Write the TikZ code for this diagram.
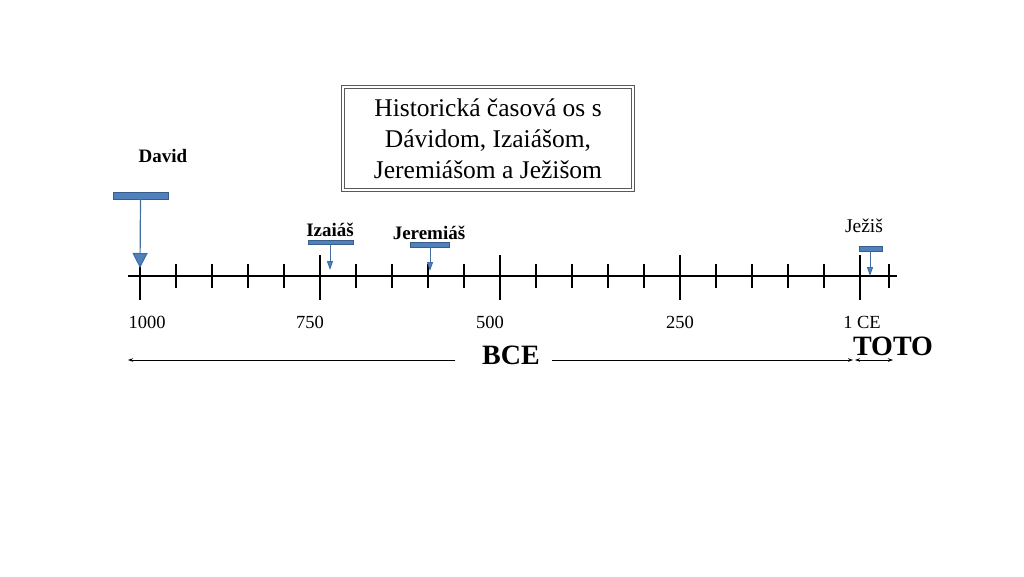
\documentclass[tikz,border=0pt]{standalone}
\usepackage{fontspec}
\setmainfont{Liberation Serif}
\usetikzlibrary{positioning,arrows.meta}
\definecolor{barblue}{RGB}{79,129,189}
\definecolor{baredge}{RGB}{56,93,138}

\begin{document}
\begin{tikzpicture}[x=1pt, y=-1pt,
        bar/.style={rectangle, draw=baredge, fill=barblue, inner sep=0pt},
        who/.style={font=\fontsize{19}{22}\selectfont\bfseries},
        year/.style={font=\fontsize{18.5}{22}\selectfont},
        era/.style={font=\fontsize{28}{32}\selectfont\bfseries},
        pin/.style={draw=barblue!85!black, line width=1pt, -{Triangle[width=6pt, length=9pt, fill=barblue]}},
        span/.style={draw=black, line width=0.8pt},
        titlebox/.style={rectangle, draw=black!65, double, double distance=1.6pt, line width=1pt, fill=white,
                         minimum width=290pt, minimum height=103pt, align=center,
                         font=\fontsize{25.5}{31}\selectfont}
      ]
        \useasboundingbox (0,0) rectangle (1024,576);

        % axis and ticks
        \coordinate (start) at (128,276);
        \coordinate (end)   at (897,276);
        \draw[line width=1.4pt] (start) -- (end);
        \foreach \k in {1,2,3,4,6,7,8,9,11,12,13,14,16,17,18,19}
          \draw[line width=1.1pt] (140+36*\k,264) -- (140+36*\k,288);
        \draw[line width=1.1pt] (889,264) -- (889,288);
        \foreach \k in {0,...,4}
          \draw[line width=1.1pt] (140+180*\k,255) -- (140+180*\k,300);

        % years
        \node[year] (y1000) at (147,322) {1000};
        \node[year] (y750)  at (310,322) {750};
        \node[year] (y500)  at (490,322) {500};
        \node[year] (y250)  at (680,322) {250};
        \node[year] (yce)   at (862,322) {1 CE};

        % title
        \node[titlebox] (title) at (488,138.5) {Historická časová os s\\Dávidom, Izaiášom,\\Jeremiášom a Ježišom};

        % people
        \node[who] (david) at (163,156) {David};
        \node[bar, minimum width=55pt, minimum height=7pt] (davidbar) at (140.5,195.5) {};
        \coordinate (davidpt) at (140,268);
        \draw[draw=barblue!85!black, line width=1.2pt, -{Triangle[width=15pt, length=15pt, fill=barblue]}] (davidbar.south) -- (davidpt);

        \node[who] (izaias) at (330,230) {Izaiáš};
        \node[bar, minimum width=45pt, minimum height=4.5pt] (izaiasbar) at (330.5,242) {};
        \coordinate (izaiaspt) at (330,270);
        \draw[pin] (izaiasbar.south -| izaiaspt) -- (izaiaspt);

        \node[who] (jeremias) at (429,233) {Jeremiáš};
        \node[bar, minimum width=39pt, minimum height=5pt] (jeremiasbar) at (429.5,244.5) {};
        \coordinate (jeremiaspt) at (430,271);
        \draw[pin] (jeremiasbar.south -| jeremiaspt) -- (jeremiaspt);

        \node[font=\fontsize{19.5}{22}\selectfont] (jezis) at (864,226) {Ježiš};
        \node[bar, minimum width=23pt, minimum height=5pt] (jezisbar) at (870.5,248.5) {};
        \coordinate (jezispt) at (870,276);
        \draw[pin] (jezisbar.south -| jezispt) -- (jezispt);

        % eras
        \node[era] (bce)  at (511,355) {BCE};
        \node[era] (toto) at (893,346) {TOTO};
        \coordinate (bceA) at (455,360);
        \coordinate (bceB) at (128,360);
        \coordinate (bceC) at (552,360);
        \coordinate (bceD) at (853,360);
        \coordinate (totoA) at (855,360);
        \coordinate (totoB) at (893,360);
        \draw[span, -{Stealth[length=5pt, width=3.5pt]}] (bceA) -- (bceB);
        \draw[span, -{Stealth[length=5pt, width=3.5pt]}] (bceC) -- (bceD);
        \draw[span, {Stealth[length=5pt, width=3.5pt]}-{Stealth[length=5pt, width=3.5pt]}] (totoA) -- (totoB);
      \end{tikzpicture}
\end{document}
